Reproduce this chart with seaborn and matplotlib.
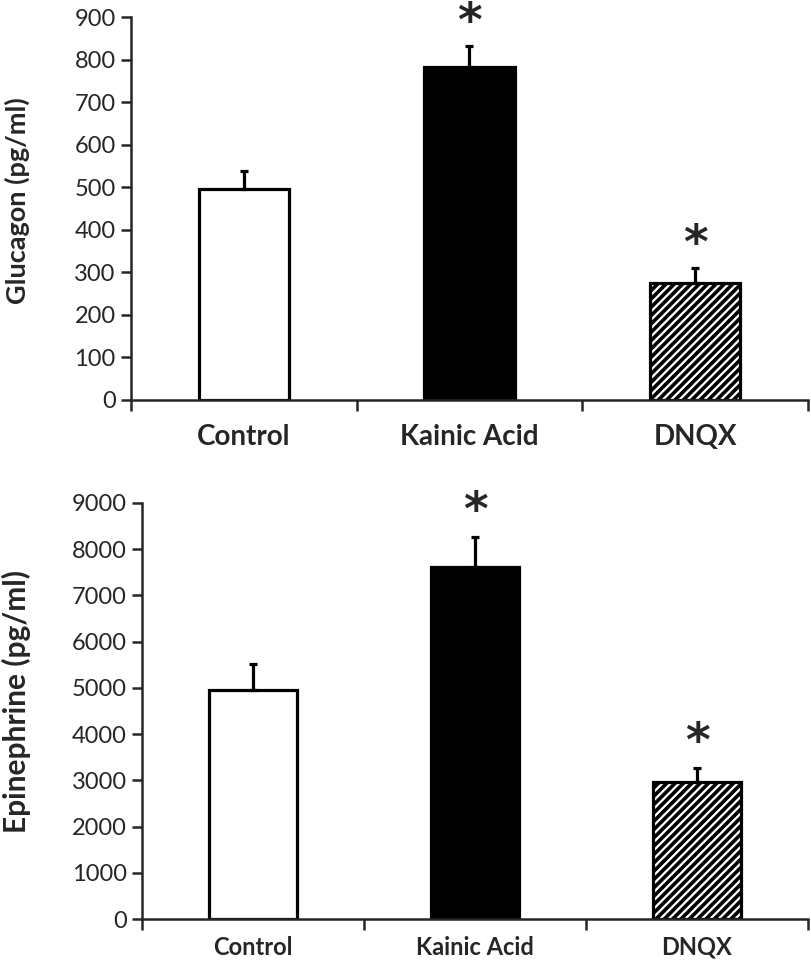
"""
Glucagon / epinephrine response: Control vs Kainic Acid vs DNQX.
Two stacked bar panels, Excel-style axes.
"""

import numpy as np
import pandas as pd
import matplotlib
matplotlib.use("Agg")
import matplotlib.pyplot as plt
import seaborn as sns

# ── DATA ─────────────────────────────────────
groups = ["Control", "Kainic Acid", "DNQX"]
glucagon_mean = [495, 782, 274]
glucagon_err = [43, 50, 37]
epi_mean = [4950, 7620, 2960]
epi_err = [560, 640, 310]
significant = [False, True, True]

bar_colors = ["white", "black", "white"]
bar_hatches = [None, None, "////"]

# ── STYLE ────────────────────────────────────
sns.set_theme(style="ticks")
plt.rcParams["font.family"] = ["Lato", "DejaVu Sans"]
plt.rcParams["hatch.linewidth"] = 2.6
plt.rcParams["hatch.color"] = "black"

W, H = 812, 966
fig = plt.figure(figsize=(W / 100, H / 100), dpi=100, facecolor="white")


def draw_panel(ax, means, errs, ymax, ystep, ylabel, yfont, label_x, label_y,
               xfont, xpad):
    df = pd.DataFrame({"group": groups, "value": means})
    sns.barplot(data=df, x="group", y="value", hue="group",
                palette=bar_colors, order=groups, hue_order=groups,
                width=0.40, edgecolor="black", linewidth=2.3,
                legend=False, ax=ax, saturation=1)

    for patch, hatch in zip(ax.patches, bar_hatches):
        if hatch:
            patch.set_hatch(hatch)

    # upward-only error bars
    x = np.arange(len(groups))
    ax.errorbar(x, means, yerr=[np.zeros(len(errs)), errs], fmt="none",
                ecolor="black", elinewidth=2.3, capsize=3.2, capthick=2.3,
                zorder=5)

    # significance stars
    for xi, m, e, sig in zip(x, means, errs, significant):
        if sig:
            ax.text(xi, m + e + 0.059 * ymax, "*", ha="center", va="center",
                    fontsize=34, fontweight="bold", family="DejaVu Sans",
                    clip_on=False)

    ax.set_xlim(-0.5, len(groups) - 0.5)
    ax.set_ylim(0, ymax)
    ax.set_yticks(np.arange(0, ymax + 1, ystep))
    ax.tick_params(axis="y", labelsize=17, width=1.8, length=7, pad=4)

    # Excel-style: ticks at category boundaries, labels at centres
    ax.set_xticks(np.arange(-0.5, len(groups), 1.0))
    ax.set_xticklabels([])
    ax.set_xticks(x, minor=True)
    ax.set_xticklabels(groups, minor=True, fontsize=xfont, fontweight="bold")
    ax.tick_params(axis="x", which="major", width=1.8, length=8)
    ax.tick_params(axis="x", which="minor", length=0, pad=xpad)

    ax.set_xlabel("")
    ax.set_ylabel(ylabel, fontsize=yfont, fontweight="bold")
    ax.yaxis.set_label_coords(label_x, label_y)

    for side in ["top", "right"]:
        ax.spines[side].set_visible(False)
    for side in ["left", "bottom"]:
        ax.spines[side].set_linewidth(1.8)


# ── TOP PANEL ────────────────────────────────
ax1 = fig.add_axes([131 / W, 1 - 400 / H, (808 - 131) / W, (400 - 17) / H])
draw_panel(ax1, glucagon_mean, glucagon_err, 900, 100,
           "Glucagon (pg/ml)", 19.5, (30 - 131) / (808 - 131), 0.52,
           20, 17)

# ── BOTTOM PANEL ─────────────────────────────
ax2 = fig.add_axes([142 / W, 1 - 919 / H, (808 - 142) / W, (919 - 503) / H])
draw_panel(ax2, epi_mean, epi_err, 9000, 1000,
           "Epinephrine (pg/ml)", 21.5, (31 - 142) / (808 - 142), 0.524,
           17, 12)

fig.savefig("out.png", dpi=100, facecolor="white")
plt.close(fig)
